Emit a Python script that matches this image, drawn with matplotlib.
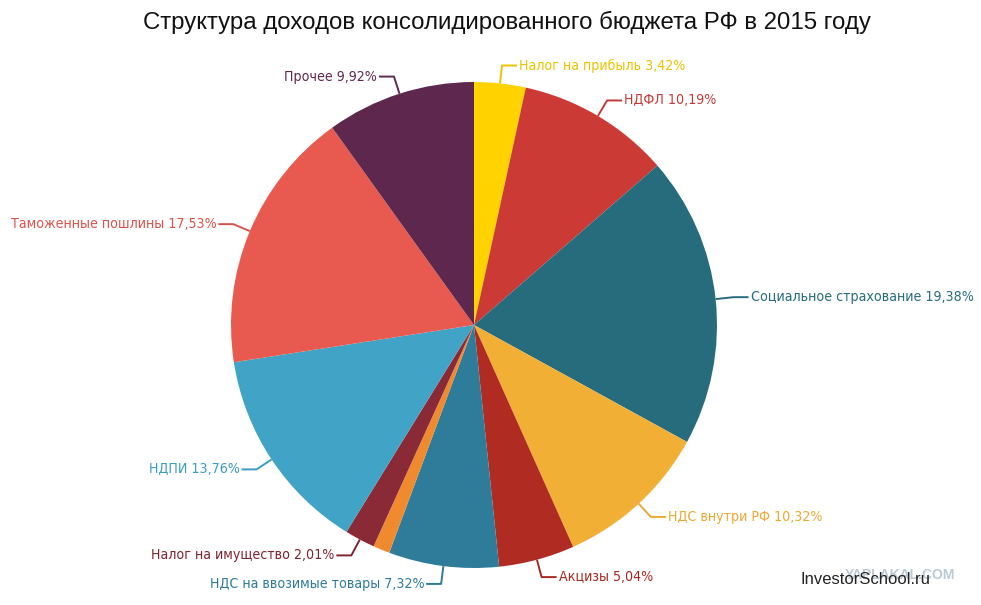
import numpy as np
import matplotlib
matplotlib.use('Agg')
import matplotlib.pyplot as plt
from matplotlib import font_manager

# Доли доходов, % (по часовой стрелке от 12 часов)
labels = [
    "Налог на прибыль", "НДФЛ", "Социальное страхование", "НДС внутри РФ",
    "Акцизы", "НДС на ввозимые товары", "", "Налог на имущество",
    "НДПИ", "Таможенные пошлины", "Прочее",
]
values = [3.42, 10.19, 19.38, 10.32, 5.04, 7.32, 1.11, 2.01, 13.76, 17.53, 9.92]
colors = ["#FFD200", "#CC3A36", "#276C7C", "#F1B035", "#B02B22", "#2E7B9A",
          "#F08A2E", "#8A2A36", "#41A3C6", "#E85A4F", "#5E284E"]
text_colors = ["#E9C300", "#C33A36", "#276C7C", "#EAA834", "#A8291F", "#2E7B9A",
               "#F08A2E", "#7E2430", "#3A9CC0", "#D9534A", "#5E284E"]

# узкий шрифт для подписей, если найдётся
narrow = None
for f in font_manager.fontManager.ttflist:
    low = f.fname.lower()
    if ("narrow" in low or "condensed" in low) and "bold" not in low and "italic" not in low \
            and "oblique" not in low:
        narrow = f.fname
        break
if narrow:
    label_prop = font_manager.FontProperties(fname=narrow, size=10.2)
else:
    label_prop = font_manager.FontProperties(family='DejaVu Sans', size=9.3)

W, H = 981, 605
cx, cy, R = 474, H - 325, 243

fig = plt.figure(figsize=(W / 100, H / 100), dpi=100)
ax = fig.add_axes([0, 0, 1, 1])
wedges, _ = ax.pie(values, colors=colors, startangle=90, counterclock=False,
                   center=(cx, cy), radius=R, wedgeprops=dict(linewidth=0))
ax.set_xlim(0, W)
ax.set_ylim(0, H)
ax.set_aspect('equal')
ax.axis('off')

for w, lab, val, tc in zip(wedges, labels, values, text_colors):
    if not lab:
        continue
    ang = np.deg2rad((w.theta1 + w.theta2) / 2)
    x0, y0 = cx + R * np.cos(ang), cy + R * np.sin(ang)
    x1, y1 = cx + (R + 18) * np.cos(ang), cy + (R + 18) * np.sin(ang)
    side = 1 if np.cos(ang) >= 0 else -1
    x2 = x1 + side * 15
    ax.plot([x0, x1, x2], [y0, y1, y1], color=tc, lw=1.4, solid_capstyle='butt')
    txt = f"{lab} {val:.2f}%".replace(".", ",")
    ax.text(x2 + side * 2, y1, txt, color=tc, fontproperties=label_prop,
            ha='left' if side > 0 else 'right', va='center')

fig.text(507 / W, 1 - 22 / H, "Структура доходов консолидированного бюджета РФ в 2015 году",
         ha='center', va='center', fontsize=17.3, family=['Liberation Sans', 'DejaVu Sans'],
         color='#111111')
fig.text(955 / W, 1 - 575 / H, "YAPLAKAL.COM", ha='right', va='center', fontsize=10,
         fontweight='bold', family=['Liberation Sans', 'DejaVu Sans'], color='#a9bccb', alpha=0.8)
fig.text(930 / W, 1 - 579 / H, "InvestorSchool.ru", ha='right', va='center', fontsize=12,
         family=['Liberation Sans', 'DejaVu Sans'], color='#222222')

fig.savefig("out.png", dpi=100)
